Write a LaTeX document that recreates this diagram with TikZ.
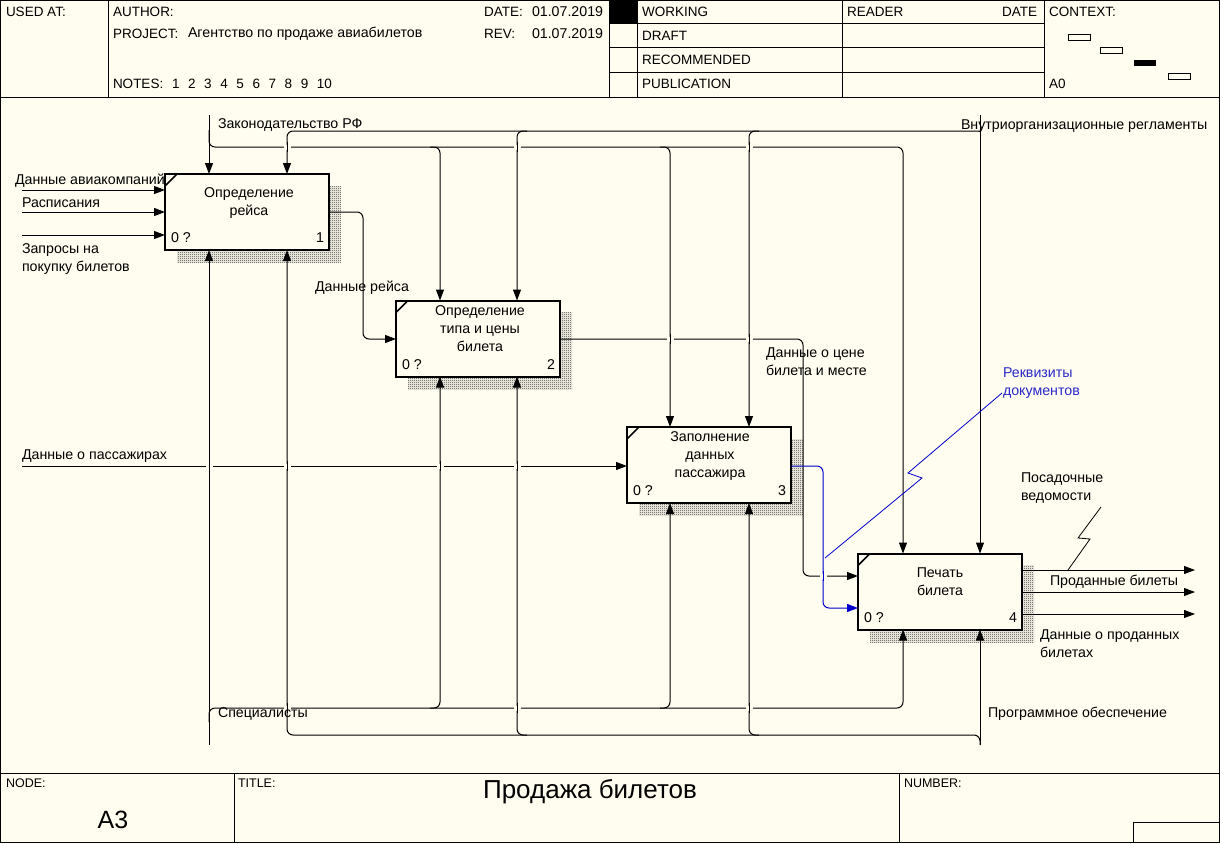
\documentclass[tikz,border=0pt]{standalone}
\usepackage{fontspec}
\setmainfont{Liberation Sans}
\usetikzlibrary{arrows.meta,patterns}
\definecolor{bg}{RGB}{255,252,240}
\definecolor{idblue}{RGB}{0,0,205}
\definecolor{lblblue}{RGB}{40,40,200}
\pgfdeclarepatternformonly{finechk}{\pgfpointorigin}{\pgfpoint{2pt}{2pt}}{\pgfpoint{2pt}{2pt}}{%
  \pgfpathrectangle{\pgfpointorigin}{\pgfpoint{1pt}{1pt}}%
  \pgfpathrectangle{\pgfpoint{1pt}{1pt}}{\pgfpoint{1pt}{1pt}}%
  \pgfusepath{fill}}
\newcommand\xgap[3][black]{%
  \fill[bg] (#2-3.5,#3-2.5) rectangle (#2+3.5,#3+2.5);
  \draw[line width=1pt,#1] (#2,#3-5) -- (#2,#3+5);}
\begin{document}
\begin{tikzpicture}[x=1pt,y=-1pt,
  every node/.style={font=\fontsize{14.2}{16}\selectfont, inner sep=0pt, outer sep=0pt},
  hdr/.style={anchor=west, font=\fontsize{13.5}{15}\selectfont},
  frame/.style={line width=1pt},
  conn/.style={line width=1pt, rounded corners=6pt},
  arr/.style={conn, -{Triangle[length=11pt,width=8pt]}},
  fbox/.style={draw, line width=2pt, fill=bg, minimum width=164pt, minimum height=76pt},
  shadowbox/.style={pattern=finechk, pattern color=black!80},
  lbl/.style={anchor=west},
  mlbl/.style={anchor=north west, align=left, font=\fontsize{14.2}{18}\selectfont},
  btxt/.style={anchor=center, align=center, font=\fontsize{14.2}{18}\selectfont},
  blue lbl/.style={mlbl, text=lblblue},
  leader/.style={line width=0.8pt}
]
\useasboundingbox (0,0) rectangle (1220,843);
\fill[bg] (0,0) rectangle (1220,843);

% ---------- frame ----------
\draw[line width=1.4pt] (0.7,0.7) rectangle (1219.3,842.3);
\draw[frame] (0,97) -- (1220,97);
\foreach \x in {108,609,637,842,1044} \draw[frame] (\x,0) -- (\x,97);
\foreach \y in {24,48,72} \draw[frame] (609,\y) -- (1044,\y);
\fill (609,0) rectangle (637,24);
\draw[frame] (0,773) -- (1220,773);
\draw[frame] (234,773) -- (234,843);
\draw[frame] (899,773) -- (899,843);
\draw[frame] (1133,843) -- (1133,822) -- (1220,822);
% context mini boxes
\draw[line width=0.8pt] (1068,34) rectangle (1090,40);
\draw[line width=0.8pt] (1100,47) rectangle (1122,53);
\fill (1134,60) rectangle (1156,66);
\draw[line width=0.8pt] (1168,73) rectangle (1190,79);

% ---------- header text ----------
\node[hdr] (usedat) at (6,12) {USED AT:};
\node[hdr] (author) at (113,12) {AUTHOR:};
\node[hdr] (project) at (113,34) {PROJECT:};
\node[lbl] (projname) at (188,34) {Агентство по продаже авиабилетов};
\node[hdr] (notes) at (113,84) {NOTES:};
\node[hdr] (notesnum) at (172,84) {1\hspace{8.6pt}2\hspace{8.6pt}3\hspace{8.6pt}4\hspace{8.6pt}5\hspace{8.6pt}6\hspace{8.6pt}7\hspace{8.6pt}8\hspace{8.6pt}9\hspace{8.6pt}10};
\node[hdr] (date) at (484,12) {DATE:};
\node[lbl] (dateval) at (532,12) {01.07.2019};
\node[hdr] (rev) at (484,34) {REV:};
\node[lbl] (revval) at (532,34) {01.07.2019};
\node[hdr] (working) at (642,12) {WORKING};
\node[hdr] (draft) at (642,36) {DRAFT};
\node[hdr] (recom) at (642,60) {RECOMMENDED};
\node[hdr] (publ) at (642,84) {PUBLICATION};
\node[hdr] (reader) at (847,12) {READER};
\node[hdr, anchor=east] (rdate) at (1037,12) {DATE};
\node[hdr] (context) at (1049,12) {CONTEXT:};
\node[hdr] (a0) at (1049,84) {A0};

% ---------- footer text ----------
\node[hdr, font=\fontsize{12.5}{14}\selectfont] (nodelbl) at (6,783) {NODE:};
\node[font=\fontsize{25}{28}\selectfont] (nodeval) at (113,820) {A3};
\node[hdr, font=\fontsize{12.5}{14}\selectfont] (titlelbl) at (238,783) {TITLE:};
\node[font=\fontsize{26}{28}\selectfont] (titleval) at (590,792) {Продажа билетов};
\node[hdr, font=\fontsize{12.5}{14}\selectfont] (numberlbl) at (904,783) {NUMBER:};

% ---------- x positions of vertical connectors ----------
\coordinate (xA) at (209,0);
\coordinate (xB) at (287,0);
\coordinate (xC) at (440,0);
\coordinate (xD) at (517,0);
\coordinate (xE) at (670,0);
\coordinate (xF) at (749,0);
\coordinate (xG) at (903,0);
\coordinate (xH) at (980,0);
\coordinate (topA) at (209,115);
\coordinate (topH) at (980,115);
\coordinate (botA) at (209,745);
\coordinate (botH) at (980,745);

% ---------- shadows and boxes ----------
\fill[shadowbox] (177,186) rectangle (341,262);
\fill[shadowbox] (408,312) rectangle (572,389);
\fill[shadowbox] (639,439) rectangle (803,515);
\fill[shadowbox] (870,565) rectangle (1034,642);
\node[fbox] (b1) at (247,212) {};
\node[fbox] (b2) at (478,338.5) {};
\node[fbox] (b3) at (709,465) {};
\node[fbox] (b4) at (940,591.5) {};
\foreach \b in {b1,b2,b3,b4}{
  \draw[line width=1.5pt] ([yshift=-12pt]\b.north west) -- ([xshift=12pt]\b.north west);
}
\node[btxt] (t1) at (249,203) {Определение\\рейса};
\node[btxt] (t2) at (480,329) {Определение\\типа и цены\\билета};
\node[btxt] (t3) at (710,456) {Заполнение\\данных\\пассажира};
\node[btxt] (t4) at (940,582) {Печать\\билета};
\foreach \b/\n in {b1/1,b2/2,b3/3,b4/4}{
  \node[anchor=west] at ([xshift=6pt,yshift=12pt]\b.south west) {0 ?};
  \node[anchor=east] at ([xshift=-5pt,yshift=12pt]\b.south east) {\n};
}

% ---------- inputs of box 1 ----------
\draw[arr] (22,190) -- (b1.west|-0,190);
\draw[arr] (22,212) -- (b1.west|-0,212);
\draw[arr] (22,235) -- (b1.west|-0,235);
% data about passengers
\draw[arr] (22,466) -- (b3.west|-0,466);

% ---------- controls ----------
\draw[arr] (topA) -- (b1.north-|xA);
\draw[arr] (209,130) |- (903,147) -- (b4.north-|xG);
\draw[arr] (430,147) -| (b2.north-|xC);
\draw[arr] (660,147) -| (b3.north-|xE);
\draw[arr] (topH) -- (b4.north-|xH);
\draw[arr] (980,131) -| (b1.north-|xB);
\draw[arr] (527,131) -| (b2.north-|xD);
\draw[arr] (759,131) -| (b3.north-|xF);

% ---------- mechanisms ----------
\draw[arr] (botA) -- (b1.south-|xA);
\draw[arr] (209,722) |- (903,708) -- (b4.south-|xG);
\draw[arr] (430,708) -| (b2.south-|xC);
\draw[arr] (660,708) -| (b3.south-|xE);
\draw[arr] (botH) -- (b4.south-|xH);
\draw[arr] (botH) |- (287,735) -- (b1.south-|xB);
\draw[arr] (527,735) -| (b2.south-|xD);
\draw[arr] (759,735) -| (b3.south-|xF);

% ---------- outputs ----------
\draw[arr] (b1.east|-0,212) -| (363,339) -- (b2.west|-0,339);
\draw[arr] (b2.east|-0,339) -| (803,576) -- (b4.west|-0,576);
\draw[arr, idblue] (b3.east|-0,466) -| (823,608) -- (b4.west|-0,608);
\coordinate (o1) at (1195,570);
\coordinate (o2) at (1195,592);
\coordinate (o3) at (1195,614);
\draw[arr] (b4.east|-o1) -- (o1);
\draw[arr] (b4.east|-o2) -- (o2);
\draw[arr] (b4.east|-o3) -- (o3);

% ---------- crossings ----------
\xgap{287}{147}\xgap{517}{147}\xgap{749}{147}
\xgap{670}{339}\xgap{749}{339}
\xgap{209}{466}\xgap{287}{466}\xgap{440}{466}\xgap{517}{466}
\xgap{287}{708}\xgap{517}{708}\xgap{749}{708}
\xgap[idblue]{823}{576}

% ---------- labels ----------
\node[lbl] (lzak) at (218,125) {Законодательство РФ};
\node[lbl] (lvnr) at (961,126) {Внутриорганизационные регламенты};
\node[lbl] (lavia) at (15,181) {Данные авиакомпаний};
\node[lbl] (lrasp) at (22,203) {Расписания};
\node[mlbl] (lzapr) at (22,244) {Запросы на\\покупку билетов};
\node[lbl] (lreis) at (315,288) {Данные рейса};
\node[mlbl] (lcena) at (766,348) {Данные о цене\\билета и месте};
\node[blue lbl] (lrekv) at (1003,368) {Реквизиты\\документов};
\node[lbl] (lpass) at (22,456) {Данные о пассажирах};
\node[mlbl] (lpos) at (1021,473) {Посадочные\\ведомости};
\node[lbl] (lprod) at (1050,582) {Проданные билеты};
\node[mlbl] (ldann) at (1040,630) {Данные о проданных\\билетах};
\node[lbl] (lspec) at (218,714) {Специалисты};
\node[lbl] (lprog) at (988,714) {Программное обеспечение};

% ---------- leaders ----------
\draw[leader, idblue] (1002,393) -- (908,473) -- (922,478) -- (825,558);
\draw[leader] (1101,507) -- (1078,538) -- (1090,539) -- (1068,570);
\end{tikzpicture}
\end{document}
